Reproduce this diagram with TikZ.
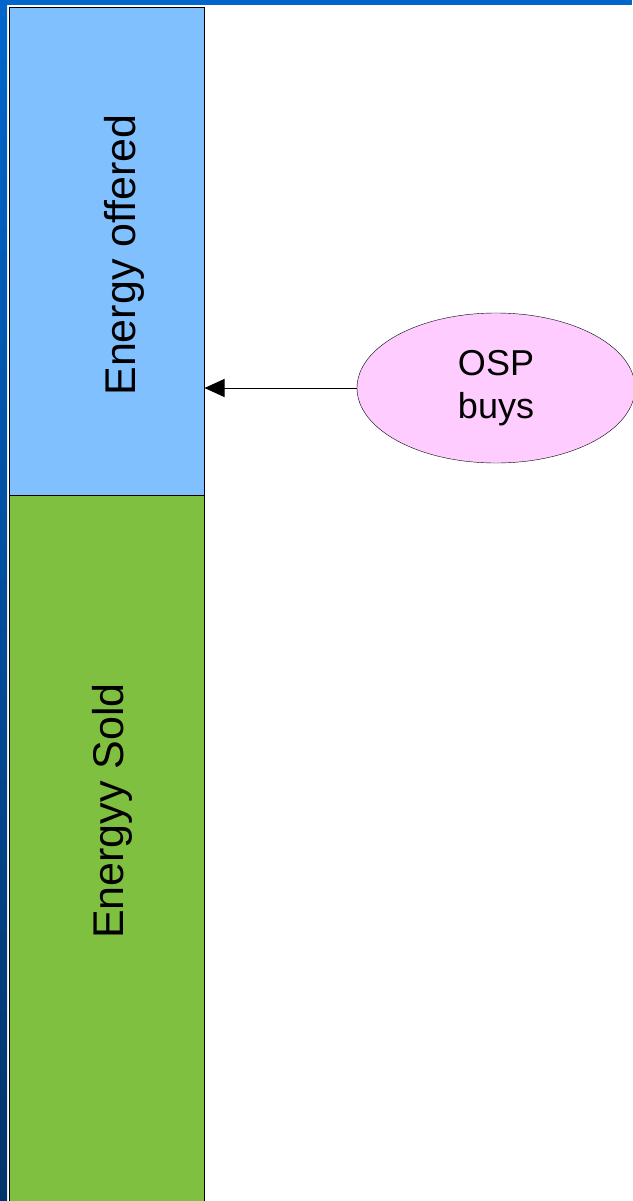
\documentclass[tikz,border=0pt]{standalone}
\usepackage{fontspec}
\setmainfont{Liberation Sans}
\usetikzlibrary{shapes.geometric,arrows.meta}
\definecolor{framebluetop}{HTML}{0066CC}
\definecolor{frameblueend}{HTML}{00336A}
\definecolor{offerblue}{HTML}{80C0FF}
\definecolor{soldgreen}{HTML}{80C040}
\definecolor{osppink}{HTML}{FFCCFF}
\tikzset{
  bar/.style={rectangle, draw=black, line width=1pt, inner sep=0pt, minimum width=195pt},
  bartext/.style={rotate=90, anchor=base, inner sep=0pt, font=\fontsize{43}{50}\selectfont},
}
\begin{document}
\begin{tikzpicture}[x=1pt, y=-1pt]
    \useasboundingbox (0,0) rectangle (632,1201);
    % frame
    \fill[framebluetop] (0,0) rectangle (632,5);
    \shade[top color=framebluetop, bottom color=frameblueend] (0,5) rectangle (7,1201);

    \node[bar, fill=offerblue, minimum height=487pt] (offered) at (106.5,251.5) {};
    \node[bar, fill=soldgreen, minimum height=710pt] (sold) at (106.5,850) {};
    \node[bartext] (offeredtext) at (135,255) {Energy offered};
    \node[bartext] (soldtext) at (123,811) {Energyy Sold};

    \node[ellipse, draw=black, fill=osppink, minimum width=278pt, minimum height=150pt,
          inner sep=0pt, align=center, font=\fontsize{36}{43}\selectfont] (osp) at (496,388) {OSP\\buys};

    \draw[line width=1pt, -{Triangle[length=20pt, width=18pt]}] (osp.west) -- (osp.west -| offered.east);
\end{tikzpicture}
\end{document}
